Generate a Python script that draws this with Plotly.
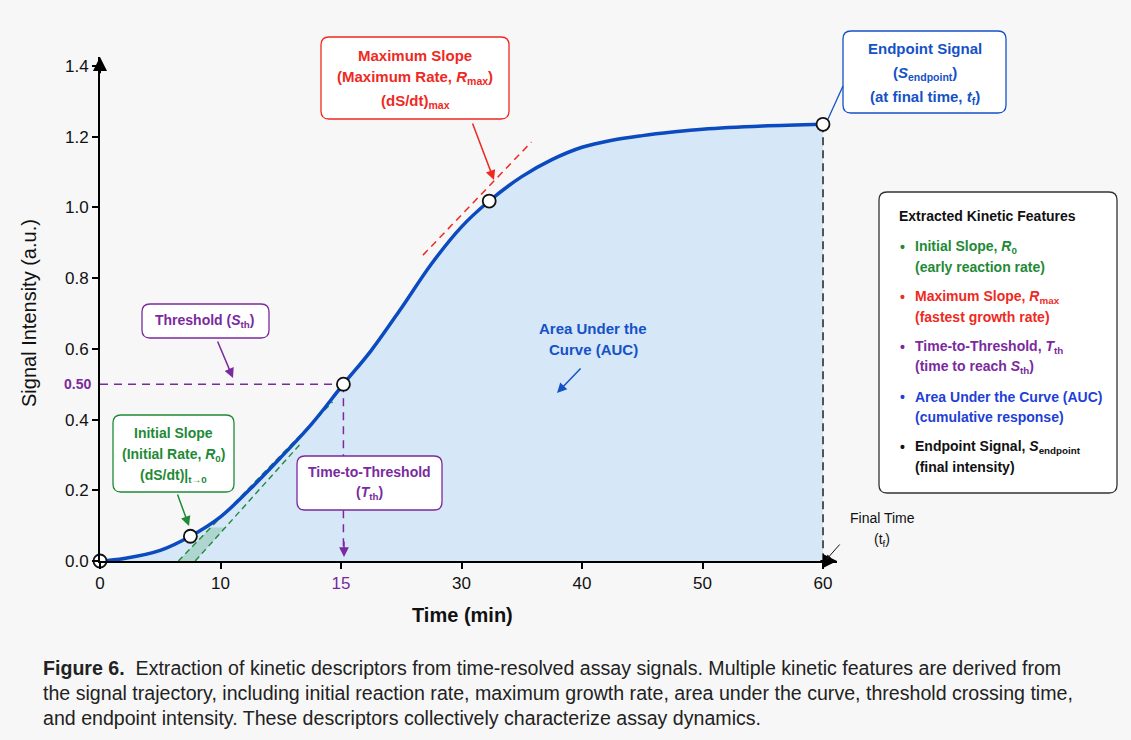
import plotly.graph_objects as go

# ---- signal trajectory (time in min, signal in a.u.) ----
TIME = [0, 2, 5, 7.5, 10, 12.5, 15, 17.5, 20.2, 22.5, 25, 27.5, 30, 32.3,
        35, 37.5, 40, 42.5, 45, 47.5, 50, 55, 60]
SIGNAL = [0.0, 0.007, 0.03, 0.07, 0.125, 0.205, 0.293, 0.385, 0.50, 0.595,
          0.715, 0.84, 0.945, 1.018, 1.087, 1.135, 1.17, 1.19, 1.203, 1.213,
          1.221, 1.23, 1.235]

# key feature points: start, initial slope, threshold, max slope, endpoint
KEY_T = [0, 7.5, 20.2, 32.3, 60]
KEY_S = [0.0, 0.07, 0.50, 1.018, 1.235]
T_TH, S_TH = 20.2, 0.50
T_END, S_END = 60, 1.235

# tangent guides
R0_LINE_A_T, R0_LINE_A_S = [6.5, 19.3], [0.0, 0.45]
R0_LINE_B_T, R0_LINE_B_S = [7.9, 16.6], [0.0, 0.33]
R0_BAND_TOP = 0.095
RMAX_LINE_T, RMAX_LINE_S = [26.8, 35.8], [0.865, 1.185]

# axis ticks
X_TICK_VALS = [0, 10, 20, 30, 40, 50, 60]
X_TICK_TEXT = ["0", "10", "15", "30", "40", "50", "60"]
Y_TICK_VALS = [0.0, 0.2, 0.4, 0.6, 0.8, 1.0, 1.2, 1.4]

GREEN = "#1f8a36"
RED = "#ee2a1f"
PURPLE = "#7a2a9e"
CURVE = "#0b4bbf"
BLUE_BOX = "#1552c6"
BLUE_LEG = "#1f3fd6"
FILL = "#d6e7f8"
BG = "#f7f7f7"
FONT = "Liberation Sans, Arial, sans-serif"

FIG_W, FIG_H = 1131, 740
ML, MT, MR, MB = 100, 57, 294, 179
PW, PH = FIG_W - ML - MR, FIG_H - MT - MB
X_RANGE = [0, 61.16]
Y_RANGE = [0, 1.4253]


def pxx(x):
    return (x - ML) / PW


def pxy(y):
    return (MT + PH - y) / PH


def rbox(x0, y0, x1, y1, color, r=8, width=1.3, fill="white"):
    X0, X1, Y0, Y1 = pxx(x0), pxx(x1), pxy(y1), pxy(y0)
    rx, ry = r / PW, r / PH
    path = (f"M{X0+rx},{Y0} L{X1-rx},{Y0} Q{X1},{Y0} {X1},{Y0+ry} "
            f"L{X1},{Y1-ry} Q{X1},{Y1} {X1-rx},{Y1} L{X0+rx},{Y1} "
            f"Q{X0},{Y1} {X0},{Y1-ry} L{X0},{Y0+ry} Q{X0},{Y0} {X0+rx},{Y0} Z")
    return dict(type="path", xref="paper", yref="paper", path=path,
                line=dict(color=color, width=width), fillcolor=fill, layer="above")


def txt(x, y, text, color, size=15, bold=True, anchor="center", angle=0):
    return dict(xref="paper", yref="paper", x=pxx(x), y=pxy(y), text=text,
                showarrow=False, xanchor=anchor, yanchor="middle", textangle=angle,
                font=dict(family=FONT, size=size, color=color,
                          weight="bold" if bold else "normal"))


def arrow(x_tail, y_tail, x_tip, y_tip, color, width=1.5, size=1.3):
    return dict(xref="paper", yref="paper", x=pxx(x_tip), y=pxy(y_tip),
                ax=x_tail - x_tip, ay=y_tail - y_tip, text="", showarrow=True,
                arrowhead=2, arrowsize=size, arrowwidth=width, arrowcolor=color)


def along(ts, ss, s):
    return ts[0] + (ts[1] - ts[0]) * (s - ss[0]) / (ss[1] - ss[0])


fig = go.Figure()

# area under the curve
fig.add_trace(go.Scatter(x=TIME, y=SIGNAL, mode="lines", fill="tozeroy",
                         fillcolor=FILL, line=dict(width=0, shape="spline"),
                         hoverinfo="skip"))

# initial-slope band and guides
band_t = [R0_LINE_A_T[0], R0_LINE_B_T[0],
          along(R0_LINE_B_T, R0_LINE_B_S, R0_BAND_TOP),
          along(R0_LINE_A_T, R0_LINE_A_S, R0_BAND_TOP)]
band_s = [0, 0, R0_BAND_TOP, R0_BAND_TOP]
fig.add_trace(go.Scatter(x=band_t, y=band_s, mode="lines", fill="toself",
                         fillcolor="rgba(60,160,90,0.25)", line=dict(width=0)))
for lt, ls in [(R0_LINE_A_T, R0_LINE_A_S), (R0_LINE_B_T, R0_LINE_B_S)]:
    fig.add_trace(go.Scatter(x=lt, y=ls, mode="lines",
                             line=dict(color=GREEN, width=1.4, dash="6px,4px")))

# max-slope tangent
fig.add_trace(go.Scatter(x=RMAX_LINE_T, y=RMAX_LINE_S, mode="lines",
                         line=dict(color=RED, width=1.5, dash="7px,5px")))

# threshold guides
fig.add_trace(go.Scatter(x=[0, T_TH], y=[S_TH, S_TH], mode="lines",
                         line=dict(color=PURPLE, width=1.5, dash="8px,6px")))
fig.add_trace(go.Scatter(x=[T_TH, T_TH], y=[S_TH, 0.04], mode="lines",
                         line=dict(color=PURPLE, width=1.5, dash="8px,6px")))

# endpoint guide
fig.add_trace(go.Scatter(x=[T_END, T_END], y=[S_END, 0], mode="lines",
                         line=dict(color="#222222", width=1.5, dash="8px,5px")))

# signal curve
fig.add_trace(go.Scatter(x=TIME, y=SIGNAL, mode="lines",
                         line=dict(color=CURVE, width=3.5, shape="spline")))

# key points
fig.add_trace(go.Scatter(x=KEY_T, y=KEY_S, mode="markers", cliponaxis=False,
                         marker=dict(size=13, color="white",
                                     line=dict(color="#111111", width=1.8))))

shapes = [
    rbox(321, 37, 509, 119, RED),
    rbox(843, 31, 1006, 113, BLUE_BOX),
    rbox(879, 192, 1117, 493, "#333333", width=1.3),
    rbox(142, 304, 269, 338, PURPLE),
    rbox(113, 415, 234, 492, GREEN),
    rbox(297, 456, 442, 510, PURPLE),
    dict(type="line", xref="paper", yref="paper", x0=pxx(843), y0=pxy(86),
         x1=pxx(828), y1=pxy(119), line=dict(color=BLUE_BOX, width=1.3)),
]

ann = [
    # axis arrowheads
    dict(x=X_RANGE[1], y=0, ax=X_RANGE[1] - 1.5, ay=0, xref="x", yref="y",
         axref="x", ayref="y", text="", showarrow=True, arrowhead=2,
         arrowsize=1.4, arrowwidth=2, arrowcolor="black"),
    dict(x=0, y=Y_RANGE[1], ax=0, ay=Y_RANGE[1] - 0.05, xref="x", yref="y",
         axref="x", ayref="y", text="", showarrow=True, arrowhead=2,
         arrowsize=1.4, arrowwidth=2, arrowcolor="black"),
    # axis titles
    txt(462, 615, "Time (min)", "#111111", size=20, bold=True),
    txt(29, 313, "Signal Intensity (a.u.)", "#111111", size=20, bold=False, angle=-90),
    # threshold value on y axis
    dict(xref="paper", yref="y", x=pxx(93), y=S_TH, text="<b>0.50</b>",
         showarrow=False, xanchor="right", yanchor="middle",
         font=dict(family=FONT, size=14, color=PURPLE)),
    # max slope
    txt(415, 55, "Maximum Slope", RED),
    txt(415, 78, "(Maximum Rate, <i>R</i><sub>max</sub>)", RED),
    txt(415, 101, "(dS/dt)<sub>max</sub>", RED),
    arrow(472, 122, 494, 180, RED),
    # endpoint
    txt(925, 48, "Endpoint Signal", BLUE_BOX),
    txt(925, 73, "(<i>S</i><sub>endpoint</sub>)", BLUE_BOX),
    txt(925, 97, "(at final time, <i>t</i><sub>f</sub>)", BLUE_BOX),
    # threshold
    txt(205, 321, "Threshold (<i>S</i><sub>th</sub>)", PURPLE, size=14),
    arrow(217, 340, 233, 378, PURPLE),
    # initial slope
    txt(173, 433, "Initial Slope", GREEN, size=14),
    txt(173, 455, "(Initial Rate, <i>R</i><sub>0</sub>)", GREEN, size=14),
    txt(173, 476, "(dS/dt)|<sub>t→0</sub>", GREEN, size=14),
    arrow(177, 493, 189, 526, GREEN),
    # time to threshold
    txt(369, 472, "Time-to-Threshold", PURPLE, size=14),
    txt(369, 493, "(<i>T</i><sub>th</sub>)", PURPLE, size=14),
    arrow(344, 540, 344, 557, PURPLE),
    # area under the curve
    txt(593, 328, "Area Under the", BLUE_BOX),
    txt(593, 350, "Curve (AUC)", BLUE_BOX),
    arrow(582, 367, 557, 393, BLUE_BOX),
    # final time
    txt(882, 518, "Final Time", "#111111", size=14, bold=False),
    txt(882, 540, "(t<sub>f</sub>)", "#111111", size=14, bold=False),
    arrow(841, 543, 826, 560, "#111111", width=1, size=1),
    # feature summary
    txt(897, 216, "Extracted Kinetic Features", "#111111", size=14, anchor="left"),
]

legend_rows = [
    (GREEN, "Initial Slope, <i>R</i><sub>0</sub>", "(early reaction rate)", 247, 267),
    (RED, "Maximum Slope, <i>R</i><sub>max</sub>", "(fastest growth rate)", 297, 317),
    (PURPLE, "Time-to-Threshold, <i>T</i><sub>th</sub>",
     "(time to reach <i>S</i><sub>th</sub>)", 347, 367),
    (BLUE_LEG, "Area Under the Curve (AUC)", "(cumulative response)", 397, 417),
    ("#111111", "Endpoint Signal, <i>S</i><sub>endpoint</sub>", "(final intensity)", 447, 467),
]
for color, head, sub, y1, y2 in legend_rows:
    ann.append(txt(902, y1, "•", color, size=14, anchor="center"))
    ann.append(txt(913, y1, head, color, size=14, anchor="left"))
    ann.append(txt(913, y2, sub, color, size=14, anchor="left"))

# caption
caption = [
    "<b>Figure 6.</b>  Extraction of kinetic descriptors from time-resolved assay signals. "
    "Multiple kinetic features are derived from",
    "the signal trajectory, including initial reaction rate, maximum growth rate, "
    "area under the curve, threshold crossing time,",
    "and endpoint intensity. These descriptors collectively characterize assay dynamics.",
]
for i, line in enumerate(caption):
    ann.append(txt(41, 668 + 25 * i, line, "#222222", size=19.6, bold=False, anchor="left"))

x_tick_text = [f'<span style="color:{PURPLE}">{t}</span>' if v == 20 else t
               for v, t in zip(X_TICK_VALS, X_TICK_TEXT)]

fig.update_layout(
    width=FIG_W, height=FIG_H,
    margin=dict(l=ML, r=MR, t=MT, b=MB),
    paper_bgcolor=BG, plot_bgcolor=BG,
    showlegend=False,
    font=dict(family=FONT, color="#111111"),
    shapes=shapes,
    annotations=ann,
    xaxis=dict(range=X_RANGE, tickvals=X_TICK_VALS, ticktext=x_tick_text,
               showgrid=False, zeroline=False, showline=True, linecolor="black",
               linewidth=2, ticks="outside", ticklen=6, tickwidth=1.5,
               tickcolor="black", tickfont=dict(size=17, color="#111111")),
    yaxis=dict(range=Y_RANGE, tickvals=Y_TICK_VALS, tickformat=".1f",
               showgrid=False, zeroline=False, showline=True, linecolor="black",
               linewidth=2, ticks="outside", ticklen=6, tickwidth=1.5,
               tickcolor="black", tickfont=dict(size=17, color="#111111")),
)

fig.write_html("out.html")
